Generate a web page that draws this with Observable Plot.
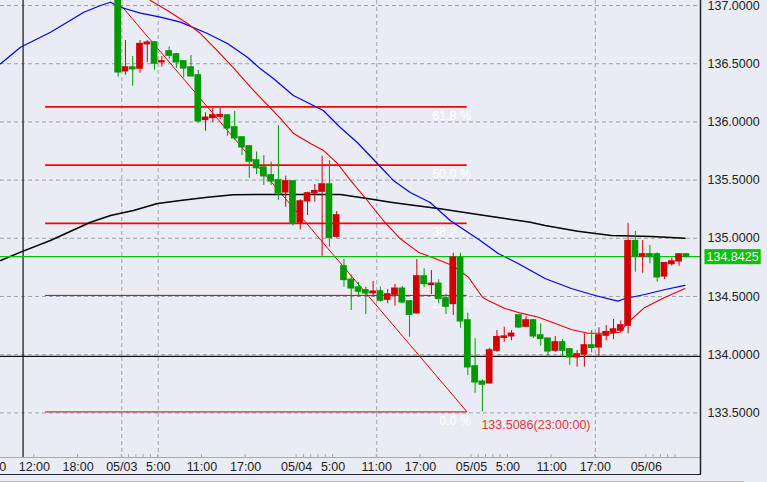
<!DOCTYPE html>
<html><head><meta charset="utf-8">
<script src="https://cdn.jsdelivr.net/npm/d3@7"></script>
<script src="https://cdn.jsdelivr.net/npm/@observablehq/plot@0.6"></script>
<style>
html,body{margin:0;padding:0;background:#e9ecf4;}
#chart{width:767px;height:482px;overflow:hidden;}
svg{display:block;}
</style></head><body><div id="chart"></div>
<script>
// hours are counted from 05/03 00:00
const candleStartHour = -1; // first visible candle opens at 05/02 23:00 (hourly candles)
const open = [137.25,136.436,136.467,136.459,136.668,136.682,136.513,136.605,136.579,136.519,136.467,136.399,136.018,136.035,136.046,136.055,135.952,135.866,135.789,135.668,135.608,135.540,135.497,135.396,135.488,135.136,135.319,135.388,135.402,135.462,135.015,134.758,134.643,134.577,134.552,134.530,134.543,134.474,134.517,134.566,134.457,134.357,134.672,134.600,134.609,134.483,134.437,134.829,134.294,133.899,133.767,133.755,134.036,134.146,134.159,134.337,134.242,134.294,134.165,134.137,134.036,134.105,134.045,133.979,134.002,134.079,134.064,134.165,134.190,134.208,134.251,134.975,134.845,134.862,134.861,134.674,134.780,134.803,134.861];
const high = [137.30,136.699,136.562,136.699,136.699,136.690,136.562,136.645,136.588,136.522,136.570,136.442,136.078,136.115,136.115,136.062,136.089,135.870,135.795,135.741,135.711,135.654,135.969,135.534,135.492,135.331,135.396,135.462,135.705,135.668,135.230,134.818,134.686,134.623,134.580,134.629,134.580,134.560,134.603,134.586,134.462,134.818,134.738,134.723,134.643,134.517,134.872,134.872,134.357,134.137,133.784,134.056,134.208,134.236,134.208,134.340,134.328,134.300,134.265,134.140,134.156,134.130,134.056,134.036,134.180,134.208,134.231,134.251,134.302,134.290,135.130,135.058,134.981,134.938,134.875,134.790,134.829,134.865,134.869];
const low = [136.384,136.401,136.307,136.418,136.510,136.444,136.470,136.539,136.459,136.379,136.390,135.989,135.920,135.997,136.018,135.877,135.840,135.711,135.516,135.546,135.454,135.454,135.325,135.267,135.104,135.073,135.196,135.310,134.846,134.924,135.000,134.580,134.380,134.494,134.345,134.494,134.451,134.437,134.417,134.440,134.150,134.350,134.575,134.517,134.437,134.345,134.337,134.228,133.821,133.669,133.5086,133.750,134.020,134.107,134.120,134.228,134.240,134.139,134.073,133.979,134.020,133.979,133.907,133.893,133.893,134.016,133.979,134.120,134.130,134.190,134.180,134.709,134.700,134.781,134.623,134.646,134.760,134.760,134.830];
const close = [136.427,136.467,136.453,136.668,136.680,136.502,136.519,136.570,136.513,136.461,136.393,136.006,136.035,136.055,136.058,135.946,135.860,135.783,135.660,135.604,135.534,135.491,135.387,135.488,135.125,135.316,135.385,135.405,135.462,135.004,135.196,134.643,134.571,134.543,134.528,134.540,134.466,134.517,134.566,134.451,134.345,134.672,134.609,134.609,134.480,134.414,134.832,134.288,133.893,133.764,133.744,134.036,134.150,134.155,134.179,134.236,134.294,134.159,134.137,134.030,134.105,134.036,133.979,134.002,134.079,134.060,134.165,134.193,134.216,134.251,134.975,134.844,134.862,134.845,134.666,134.786,134.800,134.861,134.8425];

// moving averages (hour, price)
const maShortHour  = [3.25,3.94,6.27,9.02,10.8,13.1,15.3,17.7,19.0,21.8,23.6,25.9,27.7,29.6,31.4,33.7,35.9,38.2,40.7,43.0,45.4,47.6,49.5,50.3,52.6,54.8,57.2,59.5,61.7,64.0,67.2,68.4,69.5,71.8,74.6,77.3];
const maShortPrice = [137.095,137.043,136.957,136.845,136.759,136.613,136.467,136.296,136.210,136.029,135.900,135.814,135.754,135.643,135.497,135.325,135.153,134.998,134.881,134.826,134.766,134.666,134.494,134.466,134.397,134.357,134.322,134.268,134.216,134.185,134.185,134.193,134.279,134.406,134.494,134.569];
const maMidHour  = [-16.64,-13.9,-9.78,-5.21,-2.92,-1.55,-0.18,2.56,5.31,8.05,11.76,14.5,17.24,19.03,20.81,23.55,27.67,30.0,32.33,35.08,37.27,39.6,42.34,45.08,49.2,51.67,54.4,58.1,61.7,64.98,68.1,69.1,71.8,74.6,77.3];
const maMidPrice = [136.499,136.642,136.771,136.942,137.0,137.028,136.985,136.934,136.900,136.857,136.759,136.674,136.556,136.456,136.373,136.227,136.098,135.952,135.823,135.643,135.497,135.393,135.308,135.153,134.981,134.869,134.784,134.655,134.569,134.509,134.460,134.483,134.517,134.560,134.595];
const maLongHour  = [-16.64,-13.9,-9.8,-4.3,-1.55,1.6,4.9,8.05,11.76,15.3,19.0,24.5,30.0,33.7,36.9,39.2,43.7,48.2,51.9,56.1,58.1,62.6,67.2,72.7,77.3];
const maLongPrice = [134.809,134.881,134.981,135.138,135.196,135.239,135.299,135.325,135.353,135.374,135.376,135.376,135.376,135.342,135.310,135.290,135.253,135.211,135.176,135.138,135.110,135.061,135.024,135.015,135.001];

// Fibonacci retracement
const fibHighHour = -10.3, fibHighPrice = 137.75;
const fibLowHour = 47.4, fibLowPrice = 133.5086;
const fibRatios = [0, 0.236, 0.382, 0.5, 0.618];
const fibLabels = ["0.0 %", "23.6 %", "38.2 %", "50.0 %", "61.8 %"];

const lastPrice = 134.8425;
const lowLabel = "133.5086(23:00:00)";
const lowCandleIndex = 50;
const crossHour = -13.55, crossPrice = 133.985;

const priceTicks = [133.5, 134.0, 134.5, 135.0, 135.5, 136.0, 136.5, 137.0];
const xTickHours  = [-18, -12, -6, 0, 5, 11, 17, 24, 29, 35, 41, 48, 53, 59, 65, 72];
const xTickLabels = ["06:00","12:00","18:00","05/03","5:00","11:00","17:00","05/04","5:00","11:00","17:00","05/05","5:00","11:00","17:00","05/06"];
const xGridHours = [0, 5, 35, 65];

const UP = "#d20000", DOWN = "#009a00";
const candles = open.map((o, i) => ({t: candleStartHour + i + 0.5, o, h: high[i], l: low[i], c: close[i]}));
const col = d => d.c >= d.o ? UP : DOWN;
const zip = (hs, ps) => hs.map((h, i) => ({h, p: ps[i]}));
const fib = fibRatios.map((r, i) => ({p: fibLowPrice + r * (fibHighPrice - fibLowPrice), label: fibLabels[i], r}));
const labelOf = new Map(xTickHours.map((h, i) => [h, xTickLabels[i]]));

const plot = Plot.plot({
  width: 767, height: 482,
  marginLeft: 0, marginRight: 67, marginTop: 0, marginBottom: 25,
  x: {domain: [-16.65, 79.44]},
  y: {domain: [133.117, 137.043]},
  color: {type: "identity"},
  style: {background: "#e9ecf4", fontFamily: "'Liberation Sans', Arial, sans-serif", fontSize: "12.5px", color: "#222", overflow: "visible"},
  marks: [
    Plot.ruleY(priceTicks, {stroke: "#a3a3a3", strokeDasharray: "4,3", strokeWidth: 1}),
    Plot.ruleX(xGridHours, {stroke: "#a3a3a3", strokeDasharray: "4,3", strokeWidth: 1}),
    Plot.ruleY([crossPrice], {stroke: "#111", strokeWidth: 1.2}),
    Plot.ruleX([crossHour], {stroke: "#111", strokeWidth: 1.2}),
    // fibonacci
    Plot.ruleY(fib, {y: "p", x1: fibHighHour - 0.15, x2: fibLowHour, stroke: d => d.r === 0 || d.r === 0.236 ? "#cc0000" : "#ff0000", strokeWidth: d => d.r === 0 || d.r === 0.236 ? 1 : 1.8}),
    Plot.link([{x1: fibHighHour, y1: fibHighPrice, x2: fibLowHour, y2: fibLowPrice}], {x1: "x1", y1: "y1", x2: "x2", y2: "y2", stroke: "#ee0000", strokeWidth: 1, clip: true}),
    Plot.text(fib, {x: fibLowHour, y: "p", text: "label", textAnchor: "end", dx: 4, dy: 9, fill: "#ffffff", fontSize: 12.5}),
    // moving averages
    Plot.line(zip(maLongHour, maLongPrice), {x: "h", y: "p", stroke: "#000", strokeWidth: 1.5, clip: true}),
    Plot.line(zip(maMidHour, maMidPrice), {x: "h", y: "p", stroke: "#0000ee", strokeWidth: 1.2, clip: true}),
    Plot.line(zip(maShortHour, maShortPrice), {x: "h", y: "p", stroke: "#ee0000", strokeWidth: 1.1, clip: true}),
    // current price line
    Plot.ruleY([lastPrice], {stroke: "#00c400", strokeWidth: 1.3}),
    // candles
    Plot.ruleX(candles, {x: "t", y1: "l", y2: "h", stroke: col, strokeWidth: 1, clip: true}),
    Plot.rect(candles, {x1: d => d.t - 0.46, x2: d => d.t + 0.46, y1: d => Math.min(d.o, d.c), y2: d => Math.max(d.o, d.c), fill: col, insetTop: -0.8, insetBottom: -0.8, clip: true}),
    // low label
    Plot.text([{t: candles[lowCandleIndex].t, p: low[lowCandleIndex]}], {x: "t", y: "p", text: () => lowLabel, textAnchor: "start", dx: -1, dy: 13, fill: "#e8343a", fontSize: 12.5}),
    // axes
    Plot.axisY({anchor: "right", ticks: priceTicks, tickSize: 0, tickPadding: 7, tickFormat: d => d.toFixed(4), fontSize: 12.5, fill: "#222"}),
    Plot.axisX({anchor: "bottom", ticks: xTickHours, tickSize: 0, tickPadding: 5, tickFormat: h => labelOf.get(h), fontSize: 12.5, fill: "#222"}),
    Plot.text([lastPrice], {x: 79.44, y: d => d, text: d => d.toFixed(4), textAnchor: "start", dx: 6, fill: "#ffffff", fontSize: 12.5, className: "last-price"})
  ]
});
document.getElementById("chart").appendChild(plot);

// frame, axis line, tick marks, price tag background
const svg = d3.select(plot);
const xs = plot.scale("x");
const xr = xs.range;
const yr = plot.scale("y").range;
const left = Math.min(...xr), right = Math.max(...xr), bottom = Math.max(...yr);
const deco = svg.append("g");
deco.append("line").attr("x1", left).attr("x2", right).attr("y1", bottom + 0.5).attr("y2", bottom + 0.5).attr("stroke", "#a8a8a8");
const minorHours = [1, 2, 3, 4, 25, 26, 27, 28, 49, 50, 51, 52, 73, 74, 75, 76];
for (const h of xTickHours.concat(minorHours)) {
  const x = xs.apply(h);
  if (x < left || x > right) continue;
  deco.append("line").attr("x1", x).attr("x2", x).attr("y1", bottom - 3).attr("y2", bottom).attr("stroke", "#a8a8a8");
}
deco.append("line").attr("x1", right + 0.5).attr("x2", right + 0.5).attr("y1", 0).attr("y2", bottom + 17.5).attr("stroke", "#222").attr("stroke-width", 1.5);
deco.append("line").attr("x1", left).attr("x2", right + 1).attr("y1", bottom + 17.5).attr("y2", bottom + 17.5).attr("stroke", "#222").attr("stroke-width", 1.2);
deco.append("line").attr("x1", left).attr("x2", right + 44).attr("y1", bottom + 24.5).attr("y2", bottom + 24.5).attr("stroke", "#b8b8b8").attr("stroke-width", 1);

const tagNode = svg.select("g.last-price text").node();
if (tagNode) {
  const bb = tagNode.getBBox();
  const rect = document.createElementNS("http://www.w3.org/2000/svg", "rect");
  tagNode.parentNode.insertBefore(rect, tagNode);
  d3.select(rect)
    .attr("transform", tagNode.getAttribute("transform"))
    .attr("x", bb.x - 2).attr("y", bb.y - 0.5).attr("width", bb.width + 4).attr("height", bb.height + 1)
    .attr("fill", "#00c400");
}
</script>
</body></html>
